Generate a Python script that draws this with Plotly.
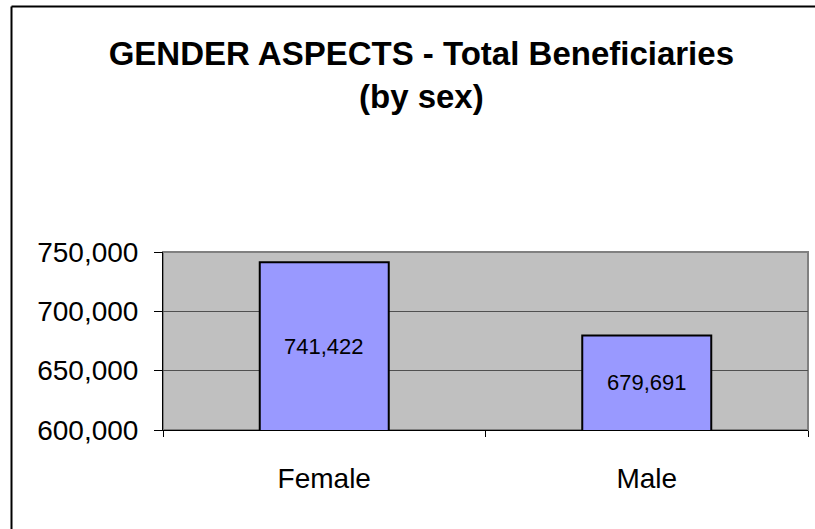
import plotly.graph_objects as go

categories = ["Female", "Male"]
values = [741422, 679691]
y_ticks = [600000, 650000, 700000, 750000]
y_tick_labels = ["600,000", "650,000", "700,000", "750,000"]
y_range = [600000, 750000]

W, H = 815, 529
L, R, T, B = 163, 7, 252, 99
pw, ph = W - L - R, H - T - B

def px_x(x):
    return (x - L) / pw

def px_y(y):
    return (H - B - y) / ph

font = "Liberation Sans, Arial, sans-serif"

fig = go.Figure(
    go.Bar(
        x=categories,
        y=values,
        marker=dict(color="#9999FF", line=dict(color="black", width=2)),
        width=0.4,
        hovertemplate="%{x}: %{y:,}<extra></extra>",
    )
)

# value labels centred in the visible part of each bar
for c, v in zip(categories, values):
    fig.add_annotation(
        x=c, y=(v + y_range[0]) / 2, xref="x", yref="y",
        text=f"{v:,}", showarrow=False,
        font=dict(family=font, size=22, color="black"),
    )

fig.update_layout(
    width=W,
    height=H,
    margin=dict(l=L, r=R, t=T, b=B),
    paper_bgcolor="white",
    plot_bgcolor="#C0C0C0",
    showlegend=False,
    title=dict(
        text="<b>GENDER ASPECTS - Total Beneficiaries<br>(by sex)</b>",
        x=0.517,
        xanchor="center",
        y=1 - 65 / H,
        yanchor="top",
        font=dict(family=font, size=33, color="black"),
    ),
    shapes=[
        dict(type="rect", xref="paper", yref="paper",
             x0=0, x1=1, y0=0, y1=1,
             line=dict(color="#808080", width=2), layer="below"),
        dict(type="line", xref="paper", yref="paper",
             x0=px_x(11.5), x1=px_x(11.5), y0=px_y(6.5), y1=px_y(540),
             line=dict(color="black", width=2)),
        dict(type="line", xref="paper", yref="paper",
             x0=px_x(11.5), x1=px_x(830), y0=px_y(6.5), y1=px_y(6.5),
             line=dict(color="black", width=2)),
    ],
)

fig.update_yaxes(
    range=y_range,
    tickvals=y_ticks,
    ticktext=y_tick_labels,
    showgrid=True,
    gridcolor="#505050",
    gridwidth=1,
    showline=True,
    linecolor="black",
    linewidth=1,
    ticks="outside",
    ticklen=8,
    tickcolor="black",
    ticklabelstandoff=10,
    tickfont=dict(family=font, size=28, color="black"),
    zeroline=False,
)

fig.update_xaxes(
    type="category",
    tickson="boundaries",
    showline=True,
    linecolor="black",
    linewidth=1,
    ticks="outside",
    ticklen=6,
    tickcolor="black",
    showgrid=False,
    ticklabelstandoff=23,
    tickfont=dict(family=font, size=28, color="black"),
)

fig.write_html(
    "out.html",
    config={"displayModeBar": False},
    post_script="document.body.style.margin='0';",
)
